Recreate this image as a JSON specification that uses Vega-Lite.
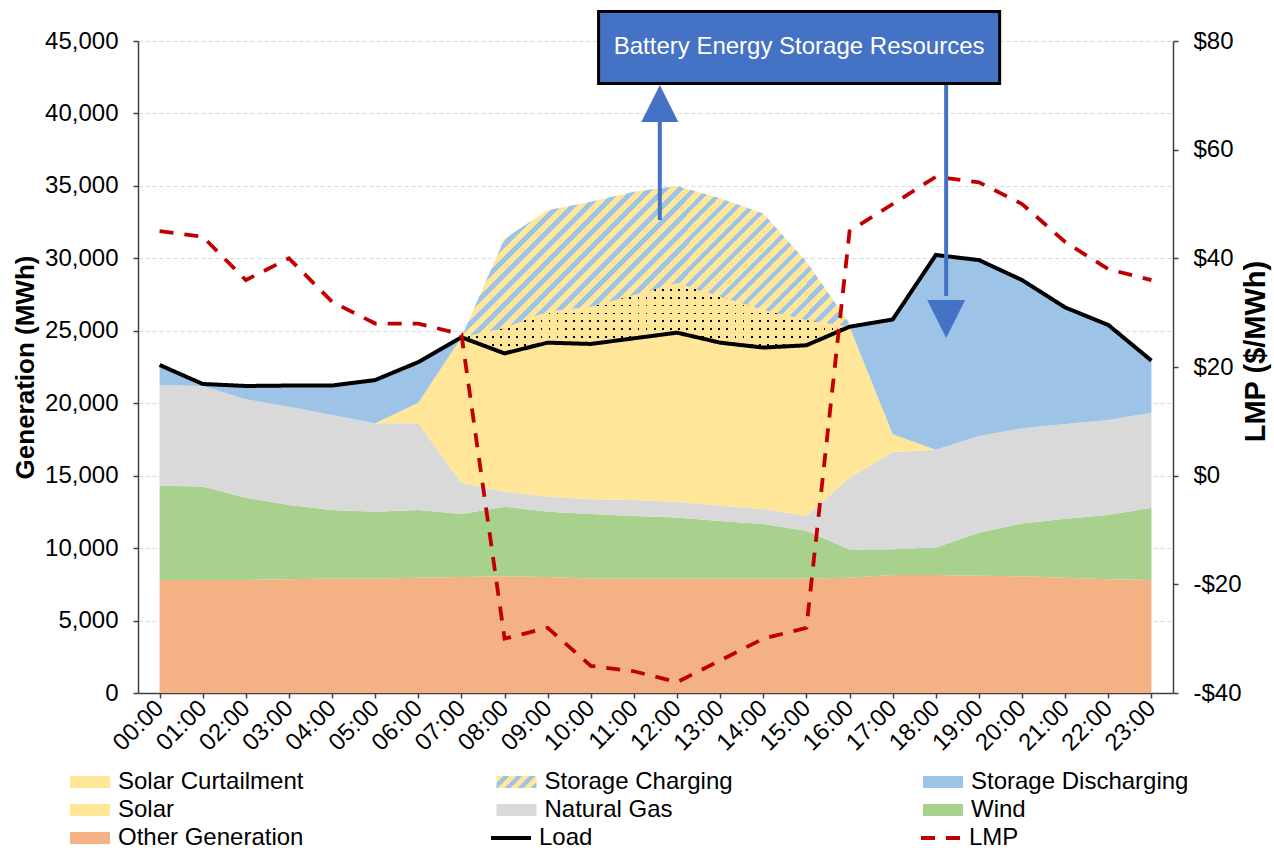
{
"$schema": "https://vega.github.io/schema/vega-lite/v6.json",
"width": 1035, "height": 652,
"autosize": {"type": "none"},
"padding": {"left": 138, "top": 41, "right": 101, "bottom": 157},
"background": "white",
"datasets": {
"gen": [
{"hour":0,"Other Generation":7800,"Wind":6500,"Natural Gas":6960,"Solar":0,"Storage Discharging":1380,"Solar Curtailment":0,"Storage Charging":0},
{"hour":1,"Other Generation":7800,"Wind":6450,"Natural Gas":6940,"Solar":0,"Storage Discharging":140,"Solar Curtailment":0,"Storage Charging":0},
{"hour":2,"Other Generation":7800,"Wind":5680,"Natural Gas":6790,"Solar":0,"Storage Discharging":920,"Solar Curtailment":0,"Storage Charging":0},
{"hour":3,"Other Generation":7850,"Wind":5130,"Natural Gas":6780,"Solar":0,"Storage Discharging":1460,"Solar Curtailment":0,"Storage Charging":0},
{"hour":4,"Other Generation":7900,"Wind":4730,"Natural Gas":6560,"Solar":0,"Storage Discharging":2030,"Solar Curtailment":0,"Storage Charging":0},
{"hour":5,"Other Generation":7900,"Wind":4610,"Natural Gas":6100,"Solar":0,"Storage Discharging":2990,"Solar Curtailment":0,"Storage Charging":0},
{"hour":6,"Other Generation":7950,"Wind":4680,"Natural Gas":5980,"Solar":1430,"Storage Discharging":2800,"Solar Curtailment":0,"Storage Charging":0},
{"hour":7,"Other Generation":8000,"Wind":4350,"Natural Gas":2160,"Solar":10040,"Storage Discharging":0,"Solar Curtailment":0,"Storage Charging":0},
{"hour":8,"Other Generation":8050,"Wind":4810,"Natural Gas":1030,"Solar":9550,"Storage Discharging":0,"Solar Curtailment":1760,"Storage Charging":6170},
{"hour":9,"Other Generation":8000,"Wind":4510,"Natural Gas":1040,"Solar":10630,"Storage Discharging":0,"Solar Curtailment":2150,"Storage Charging":6990},
{"hour":10,"Other Generation":7900,"Wind":4450,"Natural Gas":1020,"Solar":10720,"Storage Discharging":0,"Solar Curtailment":2570,"Storage Charging":7240},
{"hour":11,"Other Generation":7900,"Wind":4320,"Natural Gas":1100,"Solar":11160,"Storage Discharging":0,"Solar Curtailment":2990,"Storage Charging":7120},
{"hour":12,"Other Generation":7900,"Wind":4220,"Natural Gas":1080,"Solar":11670,"Storage Discharging":0,"Solar Curtailment":3430,"Storage Charging":6690},
{"hour":13,"Other Generation":7900,"Wind":3970,"Natural Gas":1060,"Solar":11250,"Storage Discharging":0,"Solar Curtailment":3180,"Storage Charging":6780},
{"hour":14,"Other Generation":7900,"Wind":3760,"Natural Gas":1040,"Solar":11140,"Storage Discharging":0,"Solar Curtailment":2590,"Storage Charging":6670},
{"hour":15,"Other Generation":7900,"Wind":3300,"Natural Gas":1040,"Solar":11760,"Storage Discharging":0,"Solar Curtailment":1740,"Storage Charging":4030},
{"hour":16,"Other Generation":7950,"Wind":1950,"Natural Gas":4960,"Solar":10420,"Storage Discharging":0,"Solar Curtailment":0,"Storage Charging":220},
{"hour":17,"Other Generation":8150,"Wind":1770,"Natural Gas":6710,"Solar":1230,"Storage Discharging":7920,"Solar Curtailment":0,"Storage Charging":0},
{"hour":18,"Other Generation":8150,"Wind":1900,"Natural Gas":6740,"Solar":0,"Storage Discharging":13440,"Solar Curtailment":0,"Storage Charging":0},
{"hour":19,"Other Generation":8100,"Wind":2960,"Natural Gas":6680,"Solar":0,"Storage Discharging":12140,"Solar Curtailment":0,"Storage Charging":0},
{"hour":20,"Other Generation":8050,"Wind":3650,"Natural Gas":6570,"Solar":0,"Storage Discharging":10230,"Solar Curtailment":0,"Storage Charging":0},
{"hour":21,"Other Generation":7950,"Wind":4080,"Natural Gas":6530,"Solar":0,"Storage Discharging":8050,"Solar Curtailment":0,"Storage Charging":0},
{"hour":22,"Other Generation":7850,"Wind":4430,"Natural Gas":6560,"Solar":0,"Storage Discharging":6560,"Solar Curtailment":0,"Storage Charging":0},
{"hour":23,"Other Generation":7800,"Wind":4990,"Natural Gas":6560,"Solar":0,"Storage Discharging":3590,"Solar Curtailment":0,"Storage Charging":0}
],
"lines": [
{"hour":0,"load":22640,"lmp":45},{"hour":1,"load":21330,"lmp":44},{"hour":2,"load":21190,"lmp":36},{"hour":3,"load":21220,"lmp":40},
{"hour":4,"load":21220,"lmp":32},{"hour":5,"load":21600,"lmp":28},{"hour":6,"load":22840,"lmp":28},{"hour":7,"load":24550,"lmp":26},
{"hour":8,"load":23440,"lmp":-30},{"hour":9,"load":24180,"lmp":-28},{"hour":10,"load":24090,"lmp":-35},{"hour":11,"load":24480,"lmp":-36},
{"hour":12,"load":24870,"lmp":-38},{"hour":13,"load":24180,"lmp":-34},{"hour":14,"load":23840,"lmp":-30},{"hour":15,"load":24000,"lmp":-28},
{"hour":16,"load":25280,"lmp":45},{"hour":17,"load":25780,"lmp":50},{"hour":18,"load":30230,"lmp":55},{"hour":19,"load":29880,"lmp":54},
{"hour":20,"load":28500,"lmp":50},{"hour":21,"load":26610,"lmp":43},{"hour":22,"load":25400,"lmp":38},{"hour":23,"load":22940,"lmp":36}
],
"ann": [
{"kind":"box","hour":10.18,"hour2":19.48,"val":47035,"val2":42064},
{"kind":"label","hour":14.83,"val":44585,"label":"Battery Energy Storage Resources"},
{"kind":"shaft","hour":11.6,"val":39800,"val2":32645},
{"kind":"shaft","hour":18.24,"val":41960,"val2":27400},
{"kind":"up","hour":11.6,"val":40686},
{"kind":"down","hour":18.24,"val":25813}
]
},
"encoding": {
"x": {"field": "hour", "type": "quantitative", "scale": {"domain": [-0.5, 23.5], "nice": false, "zero": false},
 "axis": {"values": [0,1,2,3,4,5,6,7,8,9,10,11,12,13,14,15,16,17,18,19,20,21,22,23],
  "labelExpr": "(datum.value < 10 ? '0' : '') + datum.value + ':00'",
  "labelAngle": -45, "labelAlign": "right", "labelBaseline": "middle", "labelPadding": 6, "grid": false, "title": null}}
},
"layer": [
{"layer": [
 {"data": {"name": "gen"},
  "transform": [
   {"fold": ["Other Generation","Wind","Natural Gas","Solar","Storage Discharging","Solar Curtailment","Storage Charging"], "as": ["series","value"]},
   {"calculate": "indexof(['Other Generation','Wind','Natural Gas','Solar','Storage Discharging','Solar Curtailment','Storage Charging'], datum.series)", "as": "ord"},
   {"stack": "value", "groupby": ["hour"], "sort": [{"field": "ord", "order": "ascending"}], "as": ["y0","y1"]}
  ],
  "layer": [
   {"transform": [{"filter": "datum.ord <= 4"}],
    "mark": {"type": "area", "opacity": 1, "interpolate": "linear"},
    "encoding": {
     "y": {"field": "y1", "type": "quantitative", "stack": null, "title": "Generation (MWh)", "scale": {"domain": [0,45000], "nice": false},
      "axis": {"values": [0,5000,10000,15000,20000,25000,30000,35000,40000,45000], "format": ",.0f", "grid": true, "labelPadding": 15, "titlePadding": 6}},
     "y2": {"field": "y0"},
     "color": {"field": "series", "type": "nominal",
      "scale": {"domain": ["Solar Curtailment","Storage Charging","Storage Discharging","Solar","Natural Gas","Wind","Other Generation"],
                "range": ["#FFE699",
                 {"expr": "{gradient: 'linear', x1: 0, y1: 0, x2: 1.193, y2: 0.358, stops: [{offset: 0, color: '#FFE699'}, {offset: 0.1375, color: '#FFE699'}, {offset: 0.1375, color: '#9DC3E6'}, {offset: 0.25, color: '#9DC3E6'}, {offset: 0.25, color: '#FFE699'}, {offset: 0.3875, color: '#FFE699'}, {offset: 0.3875, color: '#9DC3E6'}, {offset: 0.5, color: '#9DC3E6'}, {offset: 0.5, color: '#FFE699'}, {offset: 0.6375, color: '#FFE699'}, {offset: 0.6375, color: '#9DC3E6'}, {offset: 0.75, color: '#9DC3E6'}, {offset: 0.75, color: '#FFE699'}, {offset: 0.8875, color: '#FFE699'}, {offset: 0.8875, color: '#9DC3E6'}, {offset: 1, color: '#9DC3E6'}]}"},
                 "#9DC3E6","#FFE699","#D9D9D9","#A9D18E","#F4B183"]},
      "legend": {"orient": "none", "direction": "horizontal", "legendX": -60, "legendY": 729, "columns": 3, "columnPadding": 160.5, "rowPadding": 4, "gridAlign": "all", "title": null,
       "symbolType": "M-2,-0.6H2V0.6H-2Z", "symbolSize": 400, "symbolStrokeWidth": 0, "symbolOpacity": 1,
       "labelFontSize": 24, "labelFont": "Liberation Sans", "labelColor": "#000000", "labelOffset": 16, "labelLimit": 0}}
    }},
   {"transform": [{"filter": "datum.ord == 5 && datum.hour >= 7 && datum.hour <= 16"}],
    "mark": {"type": "area", "opacity": 1, "fill": {"gradient": "linear", "x1": 0, "y1": 0, "x2": 0, "y2": 1, "stops": [
     {"offset":0,"color":"#FFE699"},{"offset":0.08667,"color":"#FFE699"},{"offset":0.08667,"color":"#000000"},{"offset":0.11111,"color":"#000000"},
     {"offset":0.11111,"color":"#FFE699"},{"offset":0.19778,"color":"#FFE699"},{"offset":0.19778,"color":"#000000"},{"offset":0.22222,"color":"#000000"},
     {"offset":0.22222,"color":"#FFE699"},{"offset":0.30889,"color":"#FFE699"},{"offset":0.30889,"color":"#000000"},{"offset":0.33333,"color":"#000000"},
     {"offset":0.33333,"color":"#FFE699"},{"offset":0.42,"color":"#FFE699"},{"offset":0.42,"color":"#000000"},{"offset":0.44444,"color":"#000000"},
     {"offset":0.44444,"color":"#FFE699"},{"offset":0.53111,"color":"#FFE699"},{"offset":0.53111,"color":"#000000"},{"offset":0.55556,"color":"#000000"},
     {"offset":0.55556,"color":"#FFE699"},{"offset":0.64222,"color":"#FFE699"},{"offset":0.64222,"color":"#000000"},{"offset":0.66667,"color":"#000000"},
     {"offset":0.66667,"color":"#FFE699"},{"offset":0.75333,"color":"#FFE699"},{"offset":0.75333,"color":"#000000"},{"offset":0.77778,"color":"#000000"},
     {"offset":0.77778,"color":"#FFE699"},{"offset":0.86444,"color":"#FFE699"},{"offset":0.86444,"color":"#000000"},{"offset":0.88889,"color":"#000000"},
     {"offset":0.88889,"color":"#FFE699"},{"offset":0.97556,"color":"#FFE699"},{"offset":0.97556,"color":"#000000"},{"offset":1,"color":"#000000"}
    ]}},
    "encoding": {"y": {"field": "y1", "type": "quantitative", "stack": null, "title": "Generation (MWh)", "scale": {"domain": [0,45000], "nice": false},
      "axis": {"values": [0,5000,10000,15000,20000,25000,30000,35000,40000,45000], "format": ",.0f", "grid": true, "labelPadding": 15, "titlePadding": 6}}, "y2": {"field": "y0"}}},
   {"transform": [{"filter": "datum.ord == 5 && datum.hour >= 7 && datum.hour <= 16"}],
    "mark": {"type": "area", "opacity": 1, "fill": {"gradient": "linear", "x1": 0, "y1": 0, "x2": 1, "y2": 0, "stops": [
     {"offset":0,"color":"#FFE699"},{"offset":0.01625,"color":"#FFE699"},{"offset":0.01625,"color":"rgba(255,230,153,0)"},{"offset":0.02083,"color":"rgba(255,230,153,0)"},
     {"offset":0.02083,"color":"#FFE699"},{"offset":0.03708,"color":"#FFE699"},{"offset":0.03708,"color":"rgba(255,230,153,0)"},{"offset":0.04167,"color":"rgba(255,230,153,0)"},
     {"offset":0.04167,"color":"#FFE699"},{"offset":0.05792,"color":"#FFE699"},{"offset":0.05792,"color":"rgba(255,230,153,0)"},{"offset":0.0625,"color":"rgba(255,230,153,0)"},
     {"offset":0.0625,"color":"#FFE699"},{"offset":0.07875,"color":"#FFE699"},{"offset":0.07875,"color":"rgba(255,230,153,0)"},{"offset":0.08333,"color":"rgba(255,230,153,0)"},
     {"offset":0.08333,"color":"#FFE699"},{"offset":0.09958,"color":"#FFE699"},{"offset":0.09958,"color":"rgba(255,230,153,0)"},{"offset":0.10417,"color":"rgba(255,230,153,0)"},
     {"offset":0.10417,"color":"#FFE699"},{"offset":0.12042,"color":"#FFE699"},{"offset":0.12042,"color":"rgba(255,230,153,0)"},{"offset":0.125,"color":"rgba(255,230,153,0)"},
     {"offset":0.125,"color":"#FFE699"},{"offset":0.14125,"color":"#FFE699"},{"offset":0.14125,"color":"rgba(255,230,153,0)"},{"offset":0.14583,"color":"rgba(255,230,153,0)"},
     {"offset":0.14583,"color":"#FFE699"},{"offset":0.16208,"color":"#FFE699"},{"offset":0.16208,"color":"rgba(255,230,153,0)"},{"offset":0.16667,"color":"rgba(255,230,153,0)"},
     {"offset":0.16667,"color":"#FFE699"},{"offset":0.18292,"color":"#FFE699"},{"offset":0.18292,"color":"rgba(255,230,153,0)"},{"offset":0.1875,"color":"rgba(255,230,153,0)"},
     {"offset":0.1875,"color":"#FFE699"},{"offset":0.20375,"color":"#FFE699"},{"offset":0.20375,"color":"rgba(255,230,153,0)"},{"offset":0.20833,"color":"rgba(255,230,153,0)"},
     {"offset":0.20833,"color":"#FFE699"},{"offset":0.22458,"color":"#FFE699"},{"offset":0.22458,"color":"rgba(255,230,153,0)"},{"offset":0.22917,"color":"rgba(255,230,153,0)"},
     {"offset":0.22917,"color":"#FFE699"},{"offset":0.24542,"color":"#FFE699"},{"offset":0.24542,"color":"rgba(255,230,153,0)"},{"offset":0.25,"color":"rgba(255,230,153,0)"},
     {"offset":0.25,"color":"#FFE699"},{"offset":0.26625,"color":"#FFE699"},{"offset":0.26625,"color":"rgba(255,230,153,0)"},{"offset":0.27083,"color":"rgba(255,230,153,0)"},
     {"offset":0.27083,"color":"#FFE699"},{"offset":0.28708,"color":"#FFE699"},{"offset":0.28708,"color":"rgba(255,230,153,0)"},{"offset":0.29167,"color":"rgba(255,230,153,0)"},
     {"offset":0.29167,"color":"#FFE699"},{"offset":0.30792,"color":"#FFE699"},{"offset":0.30792,"color":"rgba(255,230,153,0)"},{"offset":0.3125,"color":"rgba(255,230,153,0)"},
     {"offset":0.3125,"color":"#FFE699"},{"offset":0.32875,"color":"#FFE699"},{"offset":0.32875,"color":"rgba(255,230,153,0)"},{"offset":0.33333,"color":"rgba(255,230,153,0)"},
     {"offset":0.33333,"color":"#FFE699"},{"offset":0.34958,"color":"#FFE699"},{"offset":0.34958,"color":"rgba(255,230,153,0)"},{"offset":0.35417,"color":"rgba(255,230,153,0)"},
     {"offset":0.35417,"color":"#FFE699"},{"offset":0.37042,"color":"#FFE699"},{"offset":0.37042,"color":"rgba(255,230,153,0)"},{"offset":0.375,"color":"rgba(255,230,153,0)"},
     {"offset":0.375,"color":"#FFE699"},{"offset":0.39125,"color":"#FFE699"},{"offset":0.39125,"color":"rgba(255,230,153,0)"},{"offset":0.39583,"color":"rgba(255,230,153,0)"},
     {"offset":0.39583,"color":"#FFE699"},{"offset":0.41208,"color":"#FFE699"},{"offset":0.41208,"color":"rgba(255,230,153,0)"},{"offset":0.41667,"color":"rgba(255,230,153,0)"},
     {"offset":0.41667,"color":"#FFE699"},{"offset":0.43292,"color":"#FFE699"},{"offset":0.43292,"color":"rgba(255,230,153,0)"},{"offset":0.4375,"color":"rgba(255,230,153,0)"},
     {"offset":0.4375,"color":"#FFE699"},{"offset":0.45375,"color":"#FFE699"},{"offset":0.45375,"color":"rgba(255,230,153,0)"},{"offset":0.45833,"color":"rgba(255,230,153,0)"},
     {"offset":0.45833,"color":"#FFE699"},{"offset":0.47458,"color":"#FFE699"},{"offset":0.47458,"color":"rgba(255,230,153,0)"},{"offset":0.47917,"color":"rgba(255,230,153,0)"},
     {"offset":0.47917,"color":"#FFE699"},{"offset":0.49542,"color":"#FFE699"},{"offset":0.49542,"color":"rgba(255,230,153,0)"},{"offset":0.5,"color":"rgba(255,230,153,0)"},
     {"offset":0.5,"color":"#FFE699"},{"offset":0.51625,"color":"#FFE699"},{"offset":0.51625,"color":"rgba(255,230,153,0)"},{"offset":0.52083,"color":"rgba(255,230,153,0)"},
     {"offset":0.52083,"color":"#FFE699"},{"offset":0.53708,"color":"#FFE699"},{"offset":0.53708,"color":"rgba(255,230,153,0)"},{"offset":0.54167,"color":"rgba(255,230,153,0)"},
     {"offset":0.54167,"color":"#FFE699"},{"offset":0.55792,"color":"#FFE699"},{"offset":0.55792,"color":"rgba(255,230,153,0)"},{"offset":0.5625,"color":"rgba(255,230,153,0)"},
     {"offset":0.5625,"color":"#FFE699"},{"offset":0.57875,"color":"#FFE699"},{"offset":0.57875,"color":"rgba(255,230,153,0)"},{"offset":0.58333,"color":"rgba(255,230,153,0)"},
     {"offset":0.58333,"color":"#FFE699"},{"offset":0.59958,"color":"#FFE699"},{"offset":0.59958,"color":"rgba(255,230,153,0)"},{"offset":0.60417,"color":"rgba(255,230,153,0)"},
     {"offset":0.60417,"color":"#FFE699"},{"offset":0.62042,"color":"#FFE699"},{"offset":0.62042,"color":"rgba(255,230,153,0)"},{"offset":0.625,"color":"rgba(255,230,153,0)"},
     {"offset":0.625,"color":"#FFE699"},{"offset":0.64125,"color":"#FFE699"},{"offset":0.64125,"color":"rgba(255,230,153,0)"},{"offset":0.64583,"color":"rgba(255,230,153,0)"},
     {"offset":0.64583,"color":"#FFE699"},{"offset":0.66208,"color":"#FFE699"},{"offset":0.66208,"color":"rgba(255,230,153,0)"},{"offset":0.66667,"color":"rgba(255,230,153,0)"},
     {"offset":0.66667,"color":"#FFE699"},{"offset":0.68292,"color":"#FFE699"},{"offset":0.68292,"color":"rgba(255,230,153,0)"},{"offset":0.6875,"color":"rgba(255,230,153,0)"},
     {"offset":0.6875,"color":"#FFE699"},{"offset":0.70375,"color":"#FFE699"},{"offset":0.70375,"color":"rgba(255,230,153,0)"},{"offset":0.70833,"color":"rgba(255,230,153,0)"},
     {"offset":0.70833,"color":"#FFE699"},{"offset":0.72458,"color":"#FFE699"},{"offset":0.72458,"color":"rgba(255,230,153,0)"},{"offset":0.72917,"color":"rgba(255,230,153,0)"},
     {"offset":0.72917,"color":"#FFE699"},{"offset":0.74542,"color":"#FFE699"},{"offset":0.74542,"color":"rgba(255,230,153,0)"},{"offset":0.75,"color":"rgba(255,230,153,0)"},
     {"offset":0.75,"color":"#FFE699"},{"offset":0.76625,"color":"#FFE699"},{"offset":0.76625,"color":"rgba(255,230,153,0)"},{"offset":0.77083,"color":"rgba(255,230,153,0)"},
     {"offset":0.77083,"color":"#FFE699"},{"offset":0.78708,"color":"#FFE699"},{"offset":0.78708,"color":"rgba(255,230,153,0)"},{"offset":0.79167,"color":"rgba(255,230,153,0)"},
     {"offset":0.79167,"color":"#FFE699"},{"offset":0.80792,"color":"#FFE699"},{"offset":0.80792,"color":"rgba(255,230,153,0)"},{"offset":0.8125,"color":"rgba(255,230,153,0)"},
     {"offset":0.8125,"color":"#FFE699"},{"offset":0.82875,"color":"#FFE699"},{"offset":0.82875,"color":"rgba(255,230,153,0)"},{"offset":0.83333,"color":"rgba(255,230,153,0)"},
     {"offset":0.83333,"color":"#FFE699"},{"offset":0.84958,"color":"#FFE699"},{"offset":0.84958,"color":"rgba(255,230,153,0)"},{"offset":0.85417,"color":"rgba(255,230,153,0)"},
     {"offset":0.85417,"color":"#FFE699"},{"offset":0.87042,"color":"#FFE699"},{"offset":0.87042,"color":"rgba(255,230,153,0)"},{"offset":0.875,"color":"rgba(255,230,153,0)"},
     {"offset":0.875,"color":"#FFE699"},{"offset":0.89125,"color":"#FFE699"},{"offset":0.89125,"color":"rgba(255,230,153,0)"},{"offset":0.89583,"color":"rgba(255,230,153,0)"},
     {"offset":0.89583,"color":"#FFE699"},{"offset":0.91208,"color":"#FFE699"},{"offset":0.91208,"color":"rgba(255,230,153,0)"},{"offset":0.91667,"color":"rgba(255,230,153,0)"},
     {"offset":0.91667,"color":"#FFE699"},{"offset":0.93292,"color":"#FFE699"},{"offset":0.93292,"color":"rgba(255,230,153,0)"},{"offset":0.9375,"color":"rgba(255,230,153,0)"},
     {"offset":0.9375,"color":"#FFE699"},{"offset":0.95375,"color":"#FFE699"},{"offset":0.95375,"color":"rgba(255,230,153,0)"},{"offset":0.95833,"color":"rgba(255,230,153,0)"},
     {"offset":0.95833,"color":"#FFE699"},{"offset":0.97458,"color":"#FFE699"},{"offset":0.97458,"color":"rgba(255,230,153,0)"},{"offset":0.97917,"color":"rgba(255,230,153,0)"},
     {"offset":0.97917,"color":"#FFE699"},{"offset":0.99542,"color":"#FFE699"},{"offset":0.99542,"color":"rgba(255,230,153,0)"},{"offset":1,"color":"rgba(255,230,153,0)"}
    ]}},
    "encoding": {"y": {"field": "y1", "type": "quantitative", "stack": null, "title": "Generation (MWh)", "scale": {"domain": [0,45000], "nice": false},
      "axis": {"values": [0,5000,10000,15000,20000,25000,30000,35000,40000,45000], "format": ",.0f", "grid": true, "labelPadding": 15, "titlePadding": 6}}, "y2": {"field": "y0"}}},
   {"transform": [{"filter": "datum.ord == 6 && datum.hour >= 7 && datum.hour <= 16"}],
    "mark": {"type": "area", "opacity": 1, "fill": {"gradient": "linear", "x1": 0, "y1": 0, "x2": 1.206, "y2": 0.469, "stops": [
     {"offset":0,"color":"#FFE699"},{"offset":0.01528,"color":"#FFE699"},{"offset":0.01528,"color":"#9DC3E6"},{"offset":0.02778,"color":"#9DC3E6"},
     {"offset":0.02778,"color":"#FFE699"},{"offset":0.04306,"color":"#FFE699"},{"offset":0.04306,"color":"#9DC3E6"},{"offset":0.05556,"color":"#9DC3E6"},
     {"offset":0.05556,"color":"#FFE699"},{"offset":0.07083,"color":"#FFE699"},{"offset":0.07083,"color":"#9DC3E6"},{"offset":0.08333,"color":"#9DC3E6"},
     {"offset":0.08333,"color":"#FFE699"},{"offset":0.09861,"color":"#FFE699"},{"offset":0.09861,"color":"#9DC3E6"},{"offset":0.11111,"color":"#9DC3E6"},
     {"offset":0.11111,"color":"#FFE699"},{"offset":0.12639,"color":"#FFE699"},{"offset":0.12639,"color":"#9DC3E6"},{"offset":0.13889,"color":"#9DC3E6"},
     {"offset":0.13889,"color":"#FFE699"},{"offset":0.15417,"color":"#FFE699"},{"offset":0.15417,"color":"#9DC3E6"},{"offset":0.16667,"color":"#9DC3E6"},
     {"offset":0.16667,"color":"#FFE699"},{"offset":0.18194,"color":"#FFE699"},{"offset":0.18194,"color":"#9DC3E6"},{"offset":0.19444,"color":"#9DC3E6"},
     {"offset":0.19444,"color":"#FFE699"},{"offset":0.20972,"color":"#FFE699"},{"offset":0.20972,"color":"#9DC3E6"},{"offset":0.22222,"color":"#9DC3E6"},
     {"offset":0.22222,"color":"#FFE699"},{"offset":0.2375,"color":"#FFE699"},{"offset":0.2375,"color":"#9DC3E6"},{"offset":0.25,"color":"#9DC3E6"},
     {"offset":0.25,"color":"#FFE699"},{"offset":0.26528,"color":"#FFE699"},{"offset":0.26528,"color":"#9DC3E6"},{"offset":0.27778,"color":"#9DC3E6"},
     {"offset":0.27778,"color":"#FFE699"},{"offset":0.29306,"color":"#FFE699"},{"offset":0.29306,"color":"#9DC3E6"},{"offset":0.30556,"color":"#9DC3E6"},
     {"offset":0.30556,"color":"#FFE699"},{"offset":0.32083,"color":"#FFE699"},{"offset":0.32083,"color":"#9DC3E6"},{"offset":0.33333,"color":"#9DC3E6"},
     {"offset":0.33333,"color":"#FFE699"},{"offset":0.34861,"color":"#FFE699"},{"offset":0.34861,"color":"#9DC3E6"},{"offset":0.36111,"color":"#9DC3E6"},
     {"offset":0.36111,"color":"#FFE699"},{"offset":0.37639,"color":"#FFE699"},{"offset":0.37639,"color":"#9DC3E6"},{"offset":0.38889,"color":"#9DC3E6"},
     {"offset":0.38889,"color":"#FFE699"},{"offset":0.40417,"color":"#FFE699"},{"offset":0.40417,"color":"#9DC3E6"},{"offset":0.41667,"color":"#9DC3E6"},
     {"offset":0.41667,"color":"#FFE699"},{"offset":0.43194,"color":"#FFE699"},{"offset":0.43194,"color":"#9DC3E6"},{"offset":0.44444,"color":"#9DC3E6"},
     {"offset":0.44444,"color":"#FFE699"},{"offset":0.45972,"color":"#FFE699"},{"offset":0.45972,"color":"#9DC3E6"},{"offset":0.47222,"color":"#9DC3E6"},
     {"offset":0.47222,"color":"#FFE699"},{"offset":0.4875,"color":"#FFE699"},{"offset":0.4875,"color":"#9DC3E6"},{"offset":0.5,"color":"#9DC3E6"},
     {"offset":0.5,"color":"#FFE699"},{"offset":0.51528,"color":"#FFE699"},{"offset":0.51528,"color":"#9DC3E6"},{"offset":0.52778,"color":"#9DC3E6"},
     {"offset":0.52778,"color":"#FFE699"},{"offset":0.54306,"color":"#FFE699"},{"offset":0.54306,"color":"#9DC3E6"},{"offset":0.55556,"color":"#9DC3E6"},
     {"offset":0.55556,"color":"#FFE699"},{"offset":0.57083,"color":"#FFE699"},{"offset":0.57083,"color":"#9DC3E6"},{"offset":0.58333,"color":"#9DC3E6"},
     {"offset":0.58333,"color":"#FFE699"},{"offset":0.59861,"color":"#FFE699"},{"offset":0.59861,"color":"#9DC3E6"},{"offset":0.61111,"color":"#9DC3E6"},
     {"offset":0.61111,"color":"#FFE699"},{"offset":0.62639,"color":"#FFE699"},{"offset":0.62639,"color":"#9DC3E6"},{"offset":0.63889,"color":"#9DC3E6"},
     {"offset":0.63889,"color":"#FFE699"},{"offset":0.65417,"color":"#FFE699"},{"offset":0.65417,"color":"#9DC3E6"},{"offset":0.66667,"color":"#9DC3E6"},
     {"offset":0.66667,"color":"#FFE699"},{"offset":0.68194,"color":"#FFE699"},{"offset":0.68194,"color":"#9DC3E6"},{"offset":0.69444,"color":"#9DC3E6"},
     {"offset":0.69444,"color":"#FFE699"},{"offset":0.70972,"color":"#FFE699"},{"offset":0.70972,"color":"#9DC3E6"},{"offset":0.72222,"color":"#9DC3E6"},
     {"offset":0.72222,"color":"#FFE699"},{"offset":0.7375,"color":"#FFE699"},{"offset":0.7375,"color":"#9DC3E6"},{"offset":0.75,"color":"#9DC3E6"},
     {"offset":0.75,"color":"#FFE699"},{"offset":0.76528,"color":"#FFE699"},{"offset":0.76528,"color":"#9DC3E6"},{"offset":0.77778,"color":"#9DC3E6"},
     {"offset":0.77778,"color":"#FFE699"},{"offset":0.79306,"color":"#FFE699"},{"offset":0.79306,"color":"#9DC3E6"},{"offset":0.80556,"color":"#9DC3E6"},
     {"offset":0.80556,"color":"#FFE699"},{"offset":0.82083,"color":"#FFE699"},{"offset":0.82083,"color":"#9DC3E6"},{"offset":0.83333,"color":"#9DC3E6"},
     {"offset":0.83333,"color":"#FFE699"},{"offset":0.84861,"color":"#FFE699"},{"offset":0.84861,"color":"#9DC3E6"},{"offset":0.86111,"color":"#9DC3E6"},
     {"offset":0.86111,"color":"#FFE699"},{"offset":0.87639,"color":"#FFE699"},{"offset":0.87639,"color":"#9DC3E6"},{"offset":0.88889,"color":"#9DC3E6"},
     {"offset":0.88889,"color":"#FFE699"},{"offset":0.90417,"color":"#FFE699"},{"offset":0.90417,"color":"#9DC3E6"},{"offset":0.91667,"color":"#9DC3E6"},
     {"offset":0.91667,"color":"#FFE699"},{"offset":0.93194,"color":"#FFE699"},{"offset":0.93194,"color":"#9DC3E6"},{"offset":0.94444,"color":"#9DC3E6"},
     {"offset":0.94444,"color":"#FFE699"},{"offset":0.95972,"color":"#FFE699"},{"offset":0.95972,"color":"#9DC3E6"},{"offset":0.97222,"color":"#9DC3E6"},
     {"offset":0.97222,"color":"#FFE699"},{"offset":0.9875,"color":"#FFE699"},{"offset":0.9875,"color":"#9DC3E6"},{"offset":1,"color":"#9DC3E6"}
    ]}},
    "encoding": {"y": {"field": "y1", "type": "quantitative", "stack": null, "title": "Generation (MWh)", "scale": {"domain": [0,45000], "nice": false},
      "axis": {"values": [0,5000,10000,15000,20000,25000,30000,35000,40000,45000], "format": ",.0f", "grid": true, "labelPadding": 15, "titlePadding": 6}}, "y2": {"field": "y0"}}}
  ]},
 {"data": {"name": "lines"},
  "mark": {"type": "line", "strokeWidth": 4},
  "encoding": {"y": {"field": "load", "type": "quantitative", "title": "Generation (MWh)", "scale": {"domain": [0,45000], "nice": false},
      "axis": {"values": [0,5000,10000,15000,20000,25000,30000,35000,40000,45000], "format": ",.0f", "grid": true, "labelPadding": 15, "titlePadding": 6}},
   "stroke": {"datum": "Load", "type": "nominal", "scale": {"domain": ["Load","LMP"], "range": ["#000000","#C00000"]},
     "legend": {"orient": "none", "direction": "horizontal", "legendX": 351, "legendY": 775, "columns": 2, "columnPadding": 320, "gridAlign": "all", "title": null,
       "symbolType": "stroke", "symbolSize": 1600, "symbolStrokeWidth": 4, "labelFontSize": 24, "labelFont": "Liberation Sans", "labelColor": "#000000", "labelOffset": 6, "labelLimit": 0}},
   "strokeDash": {"datum": "Load", "type": "nominal", "scale": {"domain": ["Load","LMP"], "range": [[1,0],[14,11]]},
     "legend": {"orient": "none", "direction": "horizontal", "legendX": 351, "legendY": 775, "columns": 2, "columnPadding": 320, "gridAlign": "all", "title": null,
       "symbolType": "stroke", "symbolSize": 1600, "symbolStrokeWidth": 4, "labelFontSize": 24, "labelFont": "Liberation Sans", "labelColor": "#000000", "labelOffset": 6, "labelLimit": 0}}}}
]},
{"data": {"name": "lines"},
 "mark": {"type": "line", "strokeWidth": 3.8},
 "encoding": {"y": {"field": "lmp", "type": "quantitative", "scale": {"domain": [-40, 80], "nice": false, "zero": false},
  "axis": {"orient": "right", "values": [-40,-20,0,20,40,60,80], "labelExpr": "(datum.value < 0 ? '-$' : '$') + abs(datum.value)", "grid": false,
   "title": "LMP ($/MWh)", "titleAngle": 270, "titleBaseline": "top", "titlePadding": 0, "titleFontSize": 29, "titleY": 310, "labelPadding": 15}},
  "stroke": {"datum": "LMP", "type": "nominal", "scale": {"domain": ["Load","LMP"], "range": ["#000000","#C00000"]},
     "legend": {"orient": "none", "direction": "horizontal", "legendX": 351, "legendY": 775, "columns": 2, "columnPadding": 320, "gridAlign": "all", "title": null,
       "symbolType": "stroke", "symbolSize": 1600, "symbolStrokeWidth": 4, "labelFontSize": 24, "labelFont": "Liberation Sans", "labelColor": "#000000", "labelOffset": 6, "labelLimit": 0}},
  "strokeDash": {"datum": "LMP", "type": "nominal", "scale": {"domain": ["Load","LMP"], "range": [[1,0],[14,11]]},
     "legend": {"orient": "none", "direction": "horizontal", "legendX": 351, "legendY": 775, "columns": 2, "columnPadding": 320, "gridAlign": "all", "title": null,
       "symbolType": "stroke", "symbolSize": 1600, "symbolStrokeWidth": 4, "labelFontSize": 24, "labelFont": "Liberation Sans", "labelColor": "#000000", "labelOffset": 6, "labelLimit": 0}}}},
{"data": {"name": "ann"},
 "layer": [
  {"transform": [{"filter": "datum.kind == 'box'"}],
   "mark": {"type": "rect", "fill": "#4472C4", "stroke": "#000000", "strokeWidth": 3},
   "encoding": {"x2": {"field": "hour2"}, "y": {"field": "val", "type": "quantitative", "scale": {"domain": [0,45000], "nice": false}, "axis": null}, "y2": {"field": "val2"}}},
  {"transform": [{"filter": "datum.kind == 'label'"}],
   "mark": {"type": "text", "color": "#FFFFFF", "fontSize": 24, "font": "Liberation Sans", "align": "center", "baseline": "middle"},
   "encoding": {"y": {"field": "val", "type": "quantitative", "scale": {"domain": [0,45000], "nice": false}, "axis": null}, "text": {"field": "label"}}},
  {"transform": [{"filter": "datum.kind == 'shaft'"}],
   "mark": {"type": "rule", "color": "#4472C4", "strokeWidth": 4},
   "encoding": {"y": {"field": "val", "type": "quantitative", "scale": {"domain": [0,45000], "nice": false}, "axis": null}, "y2": {"field": "val2"}}},
  {"transform": [{"filter": "datum.kind == 'up'"}],
   "mark": {"type": "point", "shape": "M0,-1L1,1L-1,1Z", "size": 1369, "filled": true, "opacity": 1, "color": "#4472C4", "strokeWidth": 0},
   "encoding": {"y": {"field": "val", "type": "quantitative", "scale": {"domain": [0,45000], "nice": false}, "axis": null}}},
  {"transform": [{"filter": "datum.kind == 'down'"}],
   "mark": {"type": "point", "shape": "M-1,-1L1,-1L0,1Z", "size": 1444, "filled": true, "opacity": 1, "color": "#4472C4", "strokeWidth": 0},
   "encoding": {"y": {"field": "val", "type": "quantitative", "scale": {"domain": [0,45000], "nice": false}, "axis": null}}}
 ]}
],
"resolve": {"scale": {"y": "independent"}},
"config": {
 "font": "Liberation Sans",
 "view": {"stroke": null},
 "axis": {"labelFont": "Liberation Sans", "labelFontSize": 24, "labelColor": "#000000", "titleFont": "Liberation Sans", "titleFontSize": 26, "titleFontWeight": "bold", "titleColor": "#000000",
  "domainColor": "#404040", "domainWidth": 1.5, "tickColor": "#404040", "tickWidth": 1.5, "tickSize": 5, "labelFlush": false, "labelOverlap": false,
  "gridColor": "#D9D9D9", "gridDash": [4, 3], "gridWidth": 1}
}
}
